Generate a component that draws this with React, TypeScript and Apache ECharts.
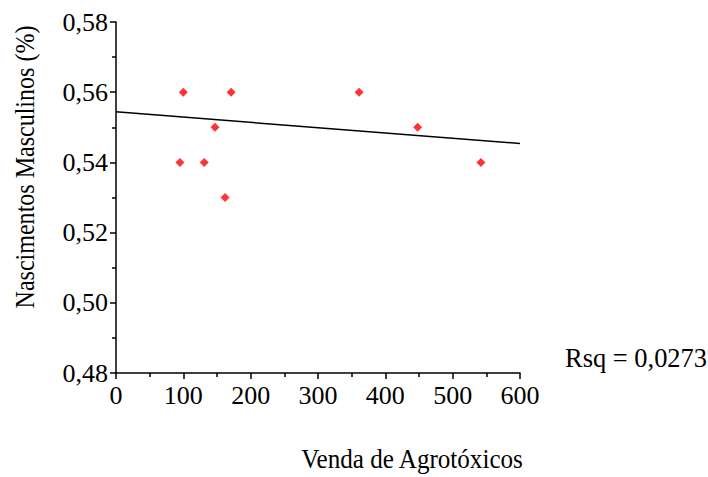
import React, { useEffect, useRef } from "react";
import * as echarts from "echarts";

const vendas = [95, 100, 147, 131, 162, 171, 361, 448, 542];
const nascimentos = [0.54, 0.56, 0.55, 0.54, 0.53, 0.56, 0.56, 0.55, 0.54];
const fitX = [0, 600];
const fitY = [0.5544, 0.5454];
const yTicks = ["0,48", "0,50", "0,52", "0,54", "0,56", "0,58"];
const rsqLabel = "Rsq = 0,0273";
const xName = "Venda de Agrotóxicos";
const yName = "Nascimentos Masculinos (%)";

const FONT = "'Liberation Serif', 'Times New Roman', 'DejaVu Serif', serif";
const FS = 27;

export default function App() {
  const ref = useRef<HTMLDivElement>(null);
  useEffect(() => {
    const chart = echarts.init(ref.current!, undefined, { renderer: "svg" });
    const tickMap: Record<string, string> = {};
    yTicks.forEach((t) => (tickMap[Number(t.replace(",", ".")).toFixed(2)] = t));
    chart.setOption({
      animation: false,
      backgroundColor: "#ffffff",
      textStyle: { fontFamily: FONT },
      grid: { left: 116, right: 188, top: 22, bottom: 104 },
      xAxis: {
        type: "value",
        min: 0,
        max: 600,
        interval: 100,
        axisLine: { show: true, lineStyle: { color: "#000", width: 1.5 } },
        axisTick: { show: true, inside: false, length: 6, lineStyle: { color: "#000", width: 1.5 } },
        minorTick: { show: true, splitNumber: 2, length: 4, lineStyle: { color: "#000", width: 1.5 } },
        splitLine: { show: false },
        axisLabel: { fontFamily: FONT, fontSize: 26, color: "#000", margin: 9 },
      },
      yAxis: {
        type: "value",
        min: 0.48,
        max: 0.58,
        interval: 0.02,
        axisLine: { show: true, lineStyle: { color: "#000", width: 1.5 } },
        axisTick: { show: true, inside: false, length: 6, lineStyle: { color: "#000", width: 1.5 } },
        minorTick: { show: true, splitNumber: 2, length: 4, lineStyle: { color: "#000", width: 1.5 } },
        splitLine: { show: false },
        axisLabel: {
          fontFamily: FONT,
          fontSize: 26,
          color: "#000",
          margin: 8,
          formatter: (v: number) => tickMap[v.toFixed(2)] ?? v.toFixed(2).replace(".", ","),
        },
      },
      series: [
        {
          type: "line",
          data: fitX.map((x, i) => [x, fitY[i]]),
          symbol: "none",
          lineStyle: { color: "#000", width: 1.5 },
          z: 1,
        },
        {
          type: "scatter",
          data: vendas.map((x, i) => [x, nascimentos[i]]),
          symbol: "diamond",
          symbolSize: 9,
          itemStyle: { color: "#ff0000" },
          z: 2,
        },
      ],
      graphic: [
        {
          type: "text",
          x: 25,
          y: 167,
          rotation: Math.PI / 2,
          scaleX: 0.89,
          style: {
            text: yName,
            fontFamily: FONT,
            fontSize: FS,
            fill: "#000",
            align: "center",
            verticalAlign: "middle",
          },
        },
        {
          type: "text",
          x: 412,
          y: 459,
          scaleX: 0.93,
          style: {
            text: xName,
            fontFamily: FONT,
            fontSize: FS,
            fill: "#000",
            align: "center",
            verticalAlign: "middle",
          },
        },
        {
          type: "text",
          x: 636,
          y: 358,
          scaleX: 0.98,
          style: {
            text: rsqLabel,
            fontFamily: FONT,
            fontSize: FS,
            fill: "#000",
            align: "center",
            verticalAlign: "middle",
          },
        },
      ],
    });
    return () => chart.dispose();
  }, []);
  return <div ref={ref} style={{ width: 708, height: 477, position: "absolute", left: 0, top: 0 }} />;
}
